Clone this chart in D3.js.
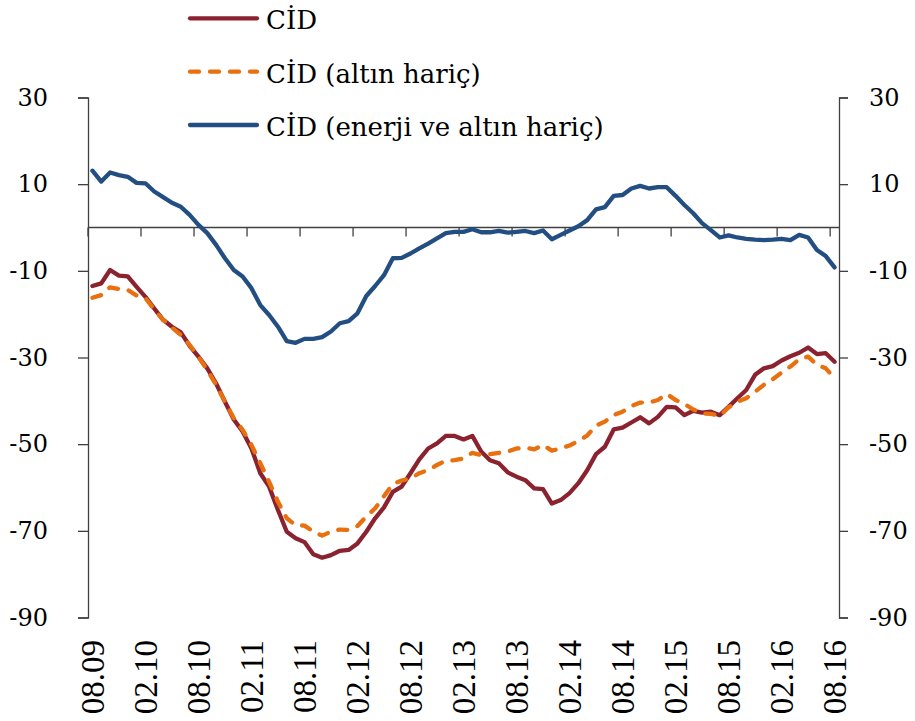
<!DOCTYPE html>
<html>
<head>
<meta charset="utf-8">
<script src="https://cdn.jsdelivr.net/npm/d3@7"></script>
<style>
  html, body { margin: 0; padding: 0; background: #fff; }
  svg { display: block; }
</style>
</head>
<body>
<svg id="chart" width="915" height="721"></svg>
<script>
// ---- data (monthly, 08.2009 - 08.2016) ----
const seriesNames = ["CİD", "CİD (altın hariç)", "CİD (enerji ve altın hariç)"];

const cid = [-13.5,-12.9,-9.8,-11.1,-11.3,-13.7,-16.0,-18.7,-21.3,-22.9,
  -24.2,-27.3,-29.8,-32.5,-36.0,-40.2,-44.3,-47.1,-51.0,-56.7,
  -59.8,-65.2,-70.2,-71.7,-72.6,-75.4,-76.2,-75.6,-74.6,-74.4,
  -72.9,-70.2,-67.1,-64.6,-61.0,-59.8,-56.7,-53.5,-51.0,-49.8,
  -48.1,-48.1,-48.9,-48.1,-51.7,-53.7,-54.4,-56.5,-57.5,-58.3,
  -60.2,-60.4,-63.7,-62.9,-61.3,-59.0,-56.0,-52.3,-50.6,-46.6,
  -46.2,-45.0,-43.8,-45.2,-43.7,-41.4,-41.5,-43.3,-42.3,-42.7,
  -42.5,-43.3,-41.4,-39.4,-37.5,-34.0,-32.5,-32.0,-30.7,-29.7,
  -28.9,-27.7,-29.2,-29.0,-31.0];

const cidExGold = [-16.2,-15.6,-13.8,-14.2,-14.4,-15.7,-16.3,-18.9,-21.3,-23.1,
  -24.8,-27.1,-29.8,-32.9,-36.3,-40.2,-44.0,-46.7,-50.2,-54.4,
  -58.7,-63.3,-67.1,-68.7,-68.8,-70.2,-71.1,-70.2,-69.7,-69.8,
  -68.9,-66.7,-64.8,-62.0,-59.2,-58.4,-57.9,-56.7,-56.0,-54.8,
  -53.8,-53.7,-53.3,-52.0,-52.5,-52.3,-52.0,-51.7,-51.0,-50.8,
  -51.2,-50.2,-51.5,-51.0,-50.3,-49.3,-48.0,-45.7,-44.8,-43.3,
  -42.5,-41.2,-40.4,-40.4,-39.8,-38.4,-39.8,-40.7,-42.0,-42.9,
  -43.0,-43.5,-41.5,-40.2,-39.4,-37.9,-36.3,-35.0,-33.5,-32.1,
  -30.4,-29.8,-31.7,-32.5,-34.8];

const cidExEnergyGold = [13.1,10.6,12.7,12.1,11.7,10.3,10.2,8.3,7.0,5.7,
  4.8,2.9,0.6,-1.3,-4.0,-7.1,-9.8,-11.3,-14.0,-17.9,
  -20.2,-22.9,-26.2,-26.6,-25.7,-25.7,-25.3,-24.0,-22.1,-21.6,
  -19.8,-15.8,-13.5,-11.0,-7.1,-7.0,-6.0,-4.8,-3.7,-2.5,
  -1.3,-1.0,-1.0,-0.4,-1.1,-1.1,-0.8,-1.2,-1.0,-0.8,
  -1.3,-0.7,-2.7,-1.7,-0.7,0.3,1.7,4.2,4.7,7.3,
  7.5,9.0,9.6,9.0,9.3,9.3,7.3,5.2,3.3,1.0,
  -0.6,-2.3,-1.8,-2.3,-2.6,-2.8,-2.9,-2.8,-2.6,-2.9,
  -1.7,-2.3,-5.2,-6.6,-9.2];

const xTickLabels = ["08.09","02.10","08.10","02.11","08.11","02.12","08.12",
  "02.13","08.13","02.14","08.14","02.15","08.15","02.16","08.16"];
const yTicks = [30, 10, -10, -30, -50, -70, -90];

// categories: month index 0..84
const categories = d3.range(cid.length);

// ---- layout ----
const svg = d3.select("#chart");
const plotLeft = 88, plotRight = 839, plotTop = 97.5, plotBottom = 617.5;
const x = d3.scaleBand().domain(categories).range([plotLeft, plotRight]).padding(0);
const y = d3.scaleLinear().domain([-90, 30]).range([plotBottom, plotTop]);
const cx = i => x(i) + x.bandwidth() / 2;

const axisColor = "#404040";
const tickFont = "'DejaVu Serif', serif";

// left axis
const yAxisL = d3.axisLeft(y).tickValues(yTicks).tickSize(10).tickPadding(30).tickFormat(d3.format("d"));
const gL = svg.append("g").attr("transform", `translate(${plotLeft},0)`).call(yAxisL);
// right axis
const yAxisR = d3.axisRight(y).tickValues(yTicks).tickSize(9).tickPadding(21).tickFormat(d3.format("d"));
const gR = svg.append("g").attr("transform", `translate(${plotRight},0)`).call(yAxisR);

[gL, gR].forEach(g => {
  g.select(".domain").attr("stroke", axisColor).attr("stroke-width", 1.3);
  g.selectAll(".tick line").attr("stroke", axisColor).attr("stroke-width", 1.3);
  g.selectAll(".tick text")
    .attr("fill", "#000")
    .style("font-family", tickFont)
    .style("font-size", "24px")
    .text(d => d < 0 ? "-" + Math.abs(d) : d);
});

// x axis on the zero line
const tickIdx = d3.range(0, categories.length, 6);
const xAxis = d3.axisBottom(x)
  .tickValues(tickIdx)
  .tickSize(9)
  .tickFormat("");
const gX = svg.append("g").attr("transform", `translate(0,${y(0)})`).call(xAxis);
gX.select(".domain").attr("stroke", axisColor).attr("stroke-width", 1.3).attr("d", `M${plotLeft},0H${plotRight}`);
gX.selectAll(".tick").attr("transform", d => `translate(${x(d)},0)`);
gX.selectAll(".tick line").attr("stroke", axisColor).attr("stroke-width", 1.3);

// x labels (rotated) at bottom
svg.append("g").selectAll("text")
  .data(tickIdx)
  .join("text")
  .attr("transform", (d) => `translate(${cx(d)},640) rotate(-90)`)
  .attr("text-anchor", "end")
  .attr("dy", "0.34em")
  .style("font-family", "'Liberation Serif', 'Times New Roman', serif")
  .style("font-size", "33px")
  .attr("fill", "#000")
  .text((d, i) => xTickLabels[i]);

// ---- lines ----
const line = d3.line().x((d, i) => cx(i)).y(d => y(d));
const colors = ["#8B2230", "#E8700E", "#234E82"];

svg.append("path").datum(cid)
  .attr("d", line).attr("fill", "none")
  .attr("stroke", colors[0]).attr("stroke-width", 4.3)
  .attr("stroke-linejoin", "round").attr("stroke-linecap", "round");

svg.append("path").datum(cidExGold)
  .attr("d", line).attr("fill", "none")
  .attr("stroke", colors[1]).attr("stroke-width", 4.3)
  .attr("stroke-dasharray", "9,11")
  .attr("stroke-linejoin", "round").attr("stroke-linecap", "round");

svg.append("path").datum(cidExEnergyGold)
  .attr("d", line).attr("fill", "none")
  .attr("stroke", colors[2]).attr("stroke-width", 4.3)
  .attr("stroke-linejoin", "round").attr("stroke-linecap", "round");

// ---- legend ----
const legendRows = [18.3, 71.7, 125];
const lg = svg.append("g");
seriesNames.forEach((name, k) => {
  const ly = legendRows[k];
  lg.append("line")
    .attr("x1", 190).attr("x2", 257)
    .attr("y1", ly).attr("y2", ly)
    .attr("stroke", colors[k]).attr("stroke-width", 4.3)
    .attr("stroke-linecap", "round")
    .attr("stroke-dasharray", k === 1 ? "9,11" : null);
  lg.append("text")
    .attr("x", 266).attr("y", ly + 11)
    .style("font-family", tickFont)
    .style("font-size", "26px")
    .attr("fill", "#000")
    .text(name);
});
</script>
</body>
</html>
